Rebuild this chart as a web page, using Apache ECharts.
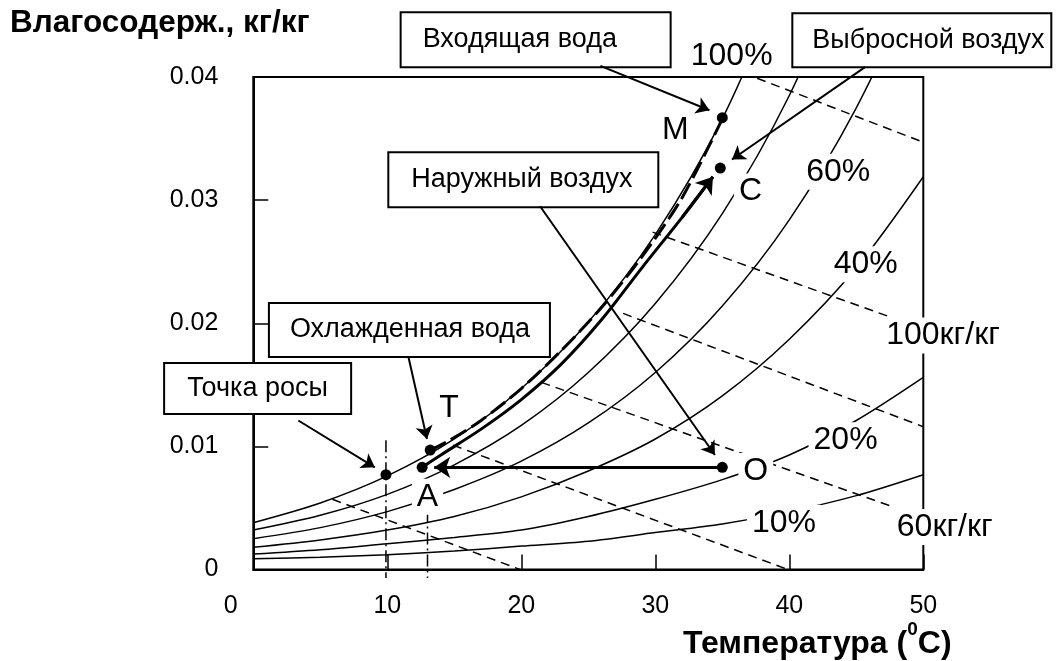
<!DOCTYPE html>
<html>
<head>
<meta charset="utf-8">
<script src="https://cdn.jsdelivr.net/npm/echarts@6/dist/echarts.min.js"></script>
<style>
  html, body { margin: 0; padding: 0; background: #fff; }
  #chart { width: 1059px; height: 661px; }
</style>
</head>
<body>
<div id="chart"></div>
<script>
var FONT = '"Liberation Sans", Arial, sans-serif';

// temperature grid of the relative humidity curves, degC
var temps = [0, 5, 10, 15, 20, 25, 30, 35, 40, 45, 50];
// humidity ratio, kg/kg
var rh100 = [0.0038, 0.0054, 0.0076, 0.0106, 0.0147, 0.0201, 0.0272, 0.0366, 0.0491];
var rh80 = [0.0032, 0.0044, 0.0061, 0.0085, 0.0117, 0.0160, 0.0216, 0.0289, 0.0385, 0.0510];
var rh60 = [0.0025, 0.0034, 0.0047, 0.0065, 0.0088, 0.0119, 0.0160, 0.0214, 0.0284, 0.0375, 0.0490];
var rh40 = [0.0018, 0.0024, 0.0032, 0.0043, 0.0059, 0.0080, 0.0106, 0.0141, 0.0187, 0.0245, 0.0319];
var rh20 = [0.00125, 0.0016, 0.0021, 0.0026, 0.0032, 0.0043, 0.0057, 0.0073, 0.0093, 0.0121, 0.0156];
var rh10 = [0.00087, 0.0010, 0.0012, 0.0015, 0.0019, 0.0023, 0.0030, 0.0037, 0.0047, 0.0060, 0.0077];

// dashed enthalpy lines, [start, end]
var enthalpyLines = [
  [[37.6, 0.0399], [50, 0.0347]],
  [[29.8, 0.0274], [47.3, 0.0206]],
  [[27.6, 0.0208], [50, 0.0116]],
  [[21.5, 0.0152], [47.7, 0.0051]],
  [[14.9, 0.0101], [39.9, 0]],
  [[5.9, 0.0057], [19.9, 0]]
];

// dash-dot drop lines at the dew point and at A
var dropLines = [
  [[9.9, 0.0105], [9.9, -0.0007]],
  [[13.0, 0.0048], [13.0, -0.0007]]
];

// dew point, T, A, O, M, C
var statePoints = [[9.9, 0.0077], [13.2, 0.0097], [12.6, 0.0083], [35.0, 0.0083], [35.0, 0.0367], [34.85, 0.0326]];

// process lines
var waterPath = [[35.0, 0.0366], [32, 0.0302], [29, 0.0254], [26, 0.0213], [23, 0.0178], [20, 0.0147], [17, 0.0121], [14.5, 0.0104], [13.2, 0.0097]];
var airPath = [[12.6, 0.0083], [14, 0.0093], [17, 0.0114], [20, 0.0138], [23, 0.0167], [26, 0.0203], [29, 0.0245], [32, 0.0286], [34.3, 0.0319]];
var coolPath = [[35.0, 0.0083], [13.5, 0.0083]];

// callout pointers from the boxes
var pointerLines = [
  [[25.9, 0.0409], [34.04, 0.0373]],
  [[45.65, 0.0408], [35.72, 0.0333]],
  [[21.4, 0.0295], [34.45, 0.0093]],
  [[11.57, 0.0173], [12.96, 0.0106]],
  [[3.36, 0.0121], [9.07, 0.0083]]
];

var curveTexts = ['100%', '60%', '40%', '20%', '10%', '100кг/кг', '60кг/кг', 'M', 'C', 'T', 'A', 'O'];
var curveTextAt = [[35.7, 0.0417], [43.65, 0.0323], [45.7, 0.0248], [44.2, 0.0105], [39.6, 0.0038],
  [51.47, 0.0190], [51.6, 0.00345], [31.5, 0.0357], [37.1, 0.0307], [14.6, 0.0131], [13.0, 0.0059], [37.5, 0.0080]];

var boxTexts = ['Входящая вода', 'Выбросной воздух', 'Наружный воздух', 'Охлажденная вода', 'Точка росы'];
var boxAt = [[11.07, 0.04303], [40.30, 0.04299], [10.15, 0.03166], [1.24, 0.01945], [-6.58, 0.0147]];
var boxSize = [[268, 53], [257, 52], [268, 53], [279, 52], [185, 49]];
var boxPad = [21, 19, 22, 20, 22];

var myChart = echarts.init(document.getElementById('chart'));

function pairs(values) {
  var out = [];
  values.forEach(function (v, i) {
    out.push([temps[i], v]);
  });
  return out;
}

var series = [];

[rh100, rh80, rh60, rh40, rh20, rh10].forEach(function (curve) {
  series.push({
    type: 'line',
    data: pairs(curve),
    smooth: 0.3,
    symbol: 'none',
    silent: true,
    z: 10,
    lineStyle: { color: '#000', width: 1.5 }
  });
});

enthalpyLines.forEach(function (seg) {
  series.push({
    type: 'line',
    data: seg,
    symbol: 'none',
    silent: true,
    z: 10,
    lineStyle: { color: '#000', width: 1.5, type: [9, 6] }
  });
});

dropLines.forEach(function (seg) {
  series.push({
    type: 'line',
    data: seg,
    symbol: 'none',
    silent: true,
    clip: false,
    z: 10,
    lineStyle: { color: '#000', width: 1.5, type: [12, 4, 2, 4] }
  });
});

series.push({
  type: 'scatter',
  silent: true,
  clip: false,
  z: 20,
  symbolSize: 1,
  itemStyle: { color: 'rgba(255,255,255,0)', opacity: 1 },
  data: curveTextAt.map(function (p, i) {
    return [p[0], p[1], curveTexts[i]];
  }),
  label: {
    show: true,
    position: 'inside',
    formatter: function (p) { return p.value[2]; },
    fontFamily: FONT,
    fontSize: 32,
    color: '#000',
    textBorderWidth: 0,
    backgroundColor: '#fff',
    padding: [2, 5]
  }
});

series.push({
  type: 'scatter',
  silent: true,
  clip: false,
  z: 30,
  symbolSize: 1,
  itemStyle: { color: 'rgba(255,255,255,0)', opacity: 1 },
  data: boxAt.map(function (p, i) {
    return {
      value: [p[0], p[1], boxTexts[i]],
      label: {
        width: boxSize[i][0] - boxPad[i],
        height: boxSize[i][1],
        lineHeight: boxSize[i][1],
        padding: [0, 0, 0, boxPad[i]]
      }
    };
  }),
  label: {
    show: true,
    position: 'inside',
    align: 'left',
    verticalAlign: 'middle',
    formatter: function (p) { return p.value[2]; },
    fontFamily: FONT,
    fontSize: 27,
    color: '#000',
    textBorderWidth: 0,
    backgroundColor: '#fff',
    borderColor: '#000',
    borderWidth: 2
  }
});

series.push({
  type: 'line',
  data: waterPath,
  smooth: 0.3,
  symbol: 'none',
  silent: true,
  z: 40,
  lineStyle: { color: '#000', width: 3, type: [18, 6] }
});

series.push({
  type: 'line',
  data: airPath,
  smooth: 0.3,
  symbol: 'none',
  silent: true,
  z: 40,
  lineStyle: { color: '#000', width: 3 }
});

series.push({
  type: 'lines',
  coordinateSystem: 'cartesian2d',
  silent: true,
  clip: false,
  z: 40,
  symbol: ['none', 'arrow'],
  symbolSize: 16,
  lineStyle: { color: '#000', width: 3, opacity: 1 },
  data: [
    { coords: coolPath },
    { coords: airPath.slice(-2) }
  ]
});

series.push({
  type: 'lines',
  coordinateSystem: 'cartesian2d',
  silent: true,
  clip: false,
  z: 40,
  symbol: ['none', 'arrow'],
  symbolSize: 13,
  lineStyle: { color: '#000', width: 2, opacity: 1 },
  data: pointerLines.map(function (seg) {
    return { coords: seg };
  })
});

series.push({
  type: 'scatter',
  silent: true,
  z: 50,
  symbolSize: 11,
  itemStyle: { color: '#000', opacity: 1 },
  data: statePoints
});

var option = {
  animation: false,
  backgroundColor: '#fff',
  title: [
    {
      text: 'Влагосодерж., кг/кг',
      left: 10,
      top: 7,
      padding: 0,
      textStyle: { fontFamily: FONT, fontSize: 31.5, fontWeight: 'bold', color: '#000' }
    },
    {
      text: '{a|Температура (}{s|0}{a|C)}',
      left: 683,
      top: 620,
      padding: 0,
      textStyle: {
        rich: {
          a: { fontFamily: FONT, fontSize: 32, fontWeight: 'bold', color: '#000', lineHeight: 40, verticalAlign: 'bottom' },
          s: { fontFamily: FONT, fontSize: 19, fontWeight: 'bold', color: '#000', lineHeight: 27, verticalAlign: 'top' }
        }
      }
    }
  ],
  grid: {
    left: 253.3,
    top: 77,
    right: 135.7,
    bottom: 91.5,
    show: true,
    z: 0,
    borderColor: '#000',
    borderWidth: 2,
    outerBoundsMode: 'none'
  },
  xAxis: {
    type: 'value',
    z: 1,
    min: 0,
    max: 50,
    interval: 10,
    axisLine: { lineStyle: { color: '#000', width: 2 } },
    axisTick: { inside: true, length: 15, lineStyle: { color: '#000', width: 1.5 } },
    splitLine: { show: false },
    axisLabel: {
      margin: 24,
      fontFamily: FONT,
      fontSize: 25,
      color: '#000',
      formatter: function (v) {
        return v === 0 ? '{z|0}' : String(v);
      },
      rich: {
        z: { fontFamily: FONT, fontSize: 25, color: '#000', padding: [0, 45, 0, 0] }
      }
    }
  },
  yAxis: {
    type: 'value',
    z: 1,
    min: 0,
    max: 0.04,
    interval: 0.01,
    axisLine: { lineStyle: { color: '#000', width: 2 } },
    axisTick: { inside: true, length: 15, lineStyle: { color: '#000', width: 1.5 } },
    splitLine: { show: false },
    axisLabel: {
      margin: 35,
      fontFamily: FONT,
      fontSize: 25,
      color: '#000',
      formatter: function (v) {
        return v === 0 ? '0' : v.toFixed(2);
      }
    }
  },
  series: series
};

myChart.setOption(option);
</script>
</body>
</html>
